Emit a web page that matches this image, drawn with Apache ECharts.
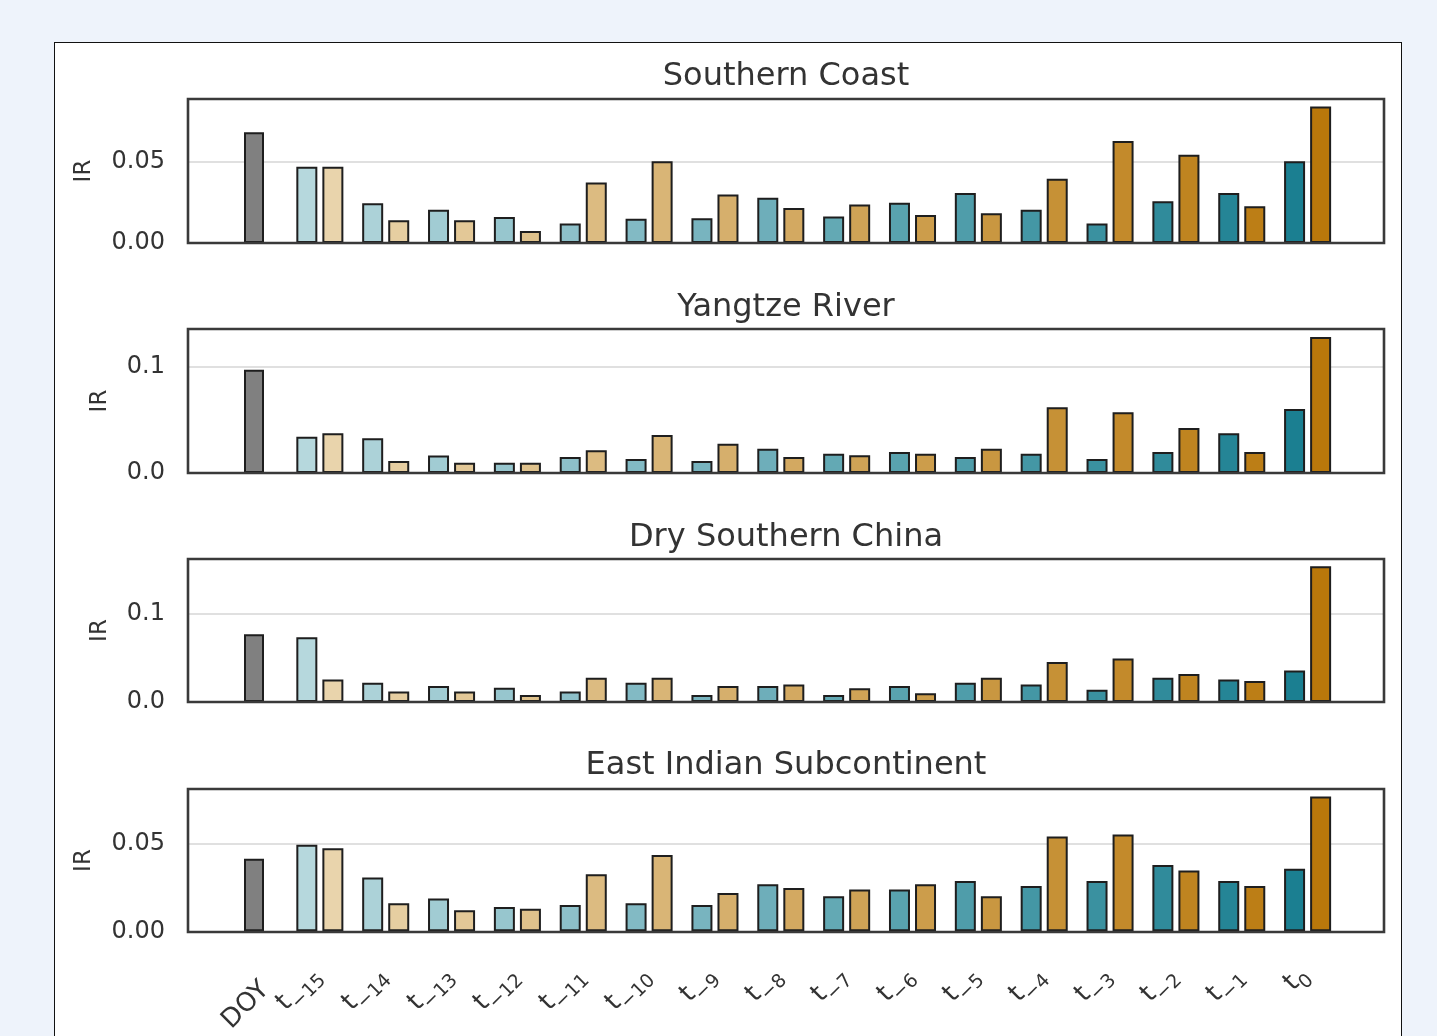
<!DOCTYPE html>
<html>
<head>
<meta charset="utf-8">
<script src="https://cdn.jsdelivr.net/npm/echarts@6/dist/echarts.min.js"></script>
<style>
  html, body { margin: 0; padding: 0; background: #eef3fb; }
  #card { position: absolute; left: 54px; top: 42px; width: 1346px; height: 1100px;
          background: #ffffff; border: 1.5px solid #111; }
  #chart { position: absolute; left: 0; top: 0; width: 1437px; height: 1036px; }
</style>
</head>
<body>
<div id="card"></div>
<div id="chart"></div>
<script>
// Feature categories: day-of-year, then the lagged time steps
const categories = ['DOY', 't-15', 't-14', 't-13', 't-12', 't-11', 't-10', 't-9', 't-8',
                    't-7', 't-6', 't-5', 't-4', 't-3', 't-2', 't-1', 't0'];

const panelTitles = ['Southern Coast', 'Yangtze River', 'Dry Southern China', 'East Indian Subcontinent'];

// IR of the day-of-year feature, one per region
const doyValues = [0.0678, 0.0969, 0.0764, 0.0411];

// IR per lag (t-15 ... t0), first variable (teal) and second variable (ochre)
const coastTeal = [0.0467, 0.0243, 0.0203, 0.0160, 0.0119, 0.0149, 0.0152, 0.0277, 0.0162, 0.0246, 0.0307, 0.0203, 0.0119, 0.0256, 0.0307, 0.0500];
const coastTan  = [0.0467, 0.0139, 0.0139, 0.0074, 0.0371, 0.0500, 0.0297, 0.0215, 0.0236, 0.0172, 0.0182, 0.0393, 0.0625, 0.0541, 0.0225, 0.0836];

const yangtzeTeal = [0.0341, 0.0325, 0.0163, 0.0097, 0.0150, 0.0131, 0.0113, 0.0228, 0.0181, 0.0197, 0.0150, 0.0181, 0.0131, 0.0197, 0.0372, 0.0600];
const yangtzeTan  = [0.0372, 0.0113, 0.0097, 0.0097, 0.0213, 0.0356, 0.0275, 0.0150, 0.0166, 0.0181, 0.0228, 0.0616, 0.0569, 0.0422, 0.0197, 0.1275];

const drySouthTeal = [0.0730, 0.0217, 0.0179, 0.0160, 0.0118, 0.0217, 0.0080, 0.0179, 0.0080, 0.0179, 0.0217, 0.0198, 0.0137, 0.0274, 0.0255, 0.0354];
const drySouthTan  = [0.0255, 0.0118, 0.0118, 0.0080, 0.0274, 0.0274, 0.0179, 0.0198, 0.0156, 0.0099, 0.0274, 0.0452, 0.0490, 0.0316, 0.0236, 0.1529];

const eastIndiaTeal = [0.0490, 0.0304, 0.0186, 0.0137, 0.0148, 0.0158, 0.0148, 0.0266, 0.0198, 0.0236, 0.0285, 0.0257, 0.0285, 0.0375, 0.0285, 0.0354];
const eastIndiaTan  = [0.0471, 0.0158, 0.0118, 0.0127, 0.0323, 0.0432, 0.0217, 0.0245, 0.0236, 0.0266, 0.0198, 0.0538, 0.0549, 0.0344, 0.0257, 0.0764];

const tealSets = [coastTeal, yangtzeTeal, drySouthTeal, eastIndiaTeal];
const tanSets  = [coastTan, yangtzeTan, drySouthTan, eastIndiaTan];

// y-axis range and tick step per panel
const yMax      = [0.0882, 0.1350, 0.1612, 0.0807];
const yInterval = [0.05, 0.1, 0.1, 0.05];
const yDecimals = [2, 1, 1, 2];

// ---- layout ----
const frameLeft = 188, frameWidth = 1196;
const step = 65.85, firstCenter = 254;
const barLeft = firstCenter - step / 2;
const barWidthAll = step * categories.length;
const panelTop    = [99, 329, 559, 789];
const panelHeight = [144, 144, 143, 143];
const titleTop    = [59, 290, 520, 748];
const nameGaps    = [92, 76, 76, 92];

const textColor = '#333333';

// colour ramps from light (t-15) to dark (t0)
function ramp(a, b, n) {
  const out = [];
  for (let i = 0; i < n; i++) {
    const t = i / (n - 1);
    const c = a.map((v, k) => Math.round(v + (b[k] - v) * t));
    out.push('rgb(' + c.join(',') + ')');
  }
  return out;
}
const tealColors = ramp([182, 216, 221], [27, 127, 145], 16);
const tanColors  = ramp([233, 212, 172], [185, 120, 11], 16);

// "DOY" as plain text, lags as t with a subscript
function labelText(cat) {
  if (cat === 'DOY') return '{d|DOY}';
  const sub = cat.slice(1).replace('-', '\u2212');
  return '{m|t}{s|' + sub + '}';
}

const grid = [], xAxis = [], yAxis = [], series = [], title = [];

for (let p = 0; p < 4; p++) {
  const isLast = p === 3;
  // frame grid: box (drawn above the grid lines), y ticks and grid lines
  grid.push({ left: frameLeft, width: frameWidth, top: panelTop[p], height: panelHeight[p], z: 10,
              show: true, borderColor: '#3a3a3a', borderWidth: 2.6, backgroundColor: 'transparent' });
  // bar grid: category bands
  grid.push({ left: barLeft, width: barWidthAll, top: panelTop[p], height: panelHeight[p] });

  const gFrame = 2 * p, gBar = 2 * p + 1;

  xAxis.push({ type: 'value', gridIndex: gFrame, show: false, min: 0, max: 1 });
  xAxis.push({
    type: 'category', gridIndex: gBar, data: categories,
    axisLine: { show: false }, axisTick: { show: false },
    axisLabel: {
      show: isLast, rotate: 45, margin: 66, interval: 0,
      padding: [0, -16, 36, 0],
      formatter: labelText,
      rich: {
        d: { fontSize: 26, color: textColor, fontFamily: 'DejaVu Sans', lineHeight: 32, padding: [36, 0, 0, 0] },
        m: { fontSize: 26, color: textColor, fontFamily: 'DejaVu Sans', lineHeight: 32, verticalAlign: 'top' },
        s: { fontSize: 19, color: textColor, fontFamily: 'DejaVu Sans', lineHeight: 20, verticalAlign: 'bottom' }
      }
    }
  });
  xAxis.push({ type: 'category', gridIndex: gBar, data: categories, show: false });

  const dec = yDecimals[p], iv = yInterval[p];
  yAxis.push({
    type: 'value', gridIndex: gFrame, min: 0, max: yMax[p], interval: iv,
    name: 'IR', nameLocation: 'middle', nameGap: nameGaps[p],
    nameTextStyle: { fontSize: 23, color: textColor, fontFamily: 'DejaVu Sans' },
    axisLine: { show: false }, axisTick: { show: false },
    axisLabel: {
      margin: 23, fontSize: 24, color: textColor, fontFamily: 'DejaVu Sans', showMaxLabel: false,
      formatter: v => {
        const k = v / iv;
        return Math.abs(k - Math.round(k)) < 1e-6 ? v.toFixed(dec) : '';
      }
    },
    splitLine: { show: true, lineStyle: { color: '#d6d6d6', width: 1.6 } }
  });
  yAxis.push({ type: 'value', gridIndex: gBar, min: 0, max: yMax[p], show: false, splitLine: { show: false } });

  const yBar = 2 * p + 1;
  const edge = { borderColor: '#1e1e1e', borderWidth: 2 };

  series.push({
    type: 'bar', name: 'DOY', xAxisIndex: 3 * p + 2, yAxisIndex: yBar, barWidth: 20,
    data: categories.map((c, i) => i === 0 ? doyValues[p] : null),
    itemStyle: Object.assign({ color: '#808080' }, edge), silent: true
  });
  series.push({
    type: 'bar', name: 'teal', xAxisIndex: 3 * p + 1, yAxisIndex: yBar, barWidth: 21, barGap: '24%',
    data: [null].concat(tealSets[p].map((v, i) => ({ value: v, itemStyle: { color: tealColors[i] } }))),
    itemStyle: edge, silent: true
  });
  series.push({
    type: 'bar', name: 'tan', xAxisIndex: 3 * p + 1, yAxisIndex: yBar, barWidth: 21, barGap: '24%',
    data: [null].concat(tanSets[p].map((v, i) => ({ value: v, itemStyle: { color: tanColors[i] } }))),
    itemStyle: edge, silent: true
  });

  title.push({
    text: panelTitles[p], left: frameLeft + frameWidth / 2, top: titleTop[p], textAlign: 'center', padding: 0,
    textStyle: { fontSize: 32, fontWeight: 'normal', color: textColor, fontFamily: 'DejaVu Sans', lineHeight: 36 }
  });
}

const chart = echarts.init(document.getElementById('chart'), null, { renderer: 'canvas' });
chart.setOption({ animation: false, title, grid, xAxis, yAxis, series });
</script>
</body>
</html>
